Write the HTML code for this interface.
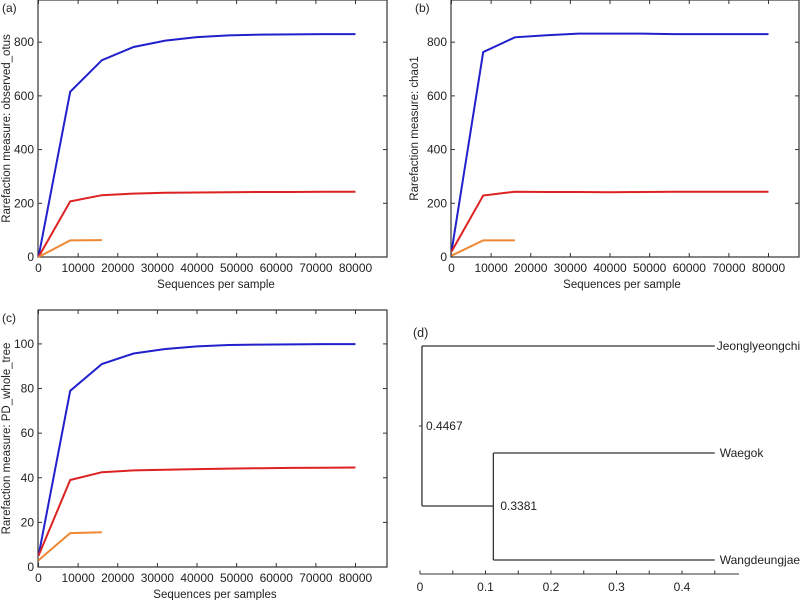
<!DOCTYPE html>
<html><head><meta charset="utf-8"><style>
body{margin:0;background:#fff;}
svg{display:block;font-family:"Liberation Sans",sans-serif;}
text{fill:#222;}
</style></head><body>
<svg id="fig" width="800" height="600" viewBox="0 0 800 600"></svg>
<script>
const xSeq = [0,8000,16000,24000,32000,40000,48000,56000,64000,72000,80000];
const xTicks = [0,10000,20000,30000,40000,50000,60000,70000,80000];
const aBlue = [0,615,733,782,806,819,825,828,829,830,830];
const aRed = [0,207,230,236,239,240,241,242,242,243,243];
const aOrange = [0,62,63];
const bBlue = [20,763,818,826,832,832,832,830,830,830,830];
const bRed = [20,229,243,242,242,241,242,243,243,243,243];
const bOrange = [5,62,62];
const cBlue = [5,79,91,95.7,97.7,98.9,99.5,99.7,99.8,99.9,99.9];
const cRed = [5,39,42.5,43.3,43.6,43.9,44.1,44.3,44.4,44.5,44.6];
const cOrange = [3,15.2,15.6];
const yTicksAB = [0,200,400,600,800];
const yTicksC = [0,20,40,60,80,100];
const treeTicks = [0,0.1,0.2,0.3,0.4];
const treeLeaves = ["Jeonglyeongchi","Waegok","Wangdeungjae"];
const treeNodeHeights = [0.4467,0.3381];
const treeNodeX = [0.003,0.112];
const treeLeafX = 0.45;

const NS="http://www.w3.org/2000/svg";
const svg=document.getElementById('fig');
function mk(tag,attrs,parent,txt){const e=document.createElementNS(NS,tag);for(const k in attrs)e.setAttribute(k,attrs[k]);if(txt!==undefined)e.textContent=txt;(parent||svg).appendChild(e);return e;}

function panel(id,L,R,T,B,ymax,yTicks,series,ylabel,xlabel,ylx,xlc){
  const g=mk('g',{});
  
  
  const x0=L+0.5, xScale=(355.5-38.5)/80000;
  const X=v=>x0+v*xScale;
  const Y=v=>B-(B-T)*v/ymax;
  const box=mk('rect',{x:L,y:T,width:R-L,height:B-T,fill:'none',stroke:'#333','stroke-width':1.2},g);
  
  
  xTicks.forEach(t=>{
    const px=X(t);
    mk('line',{x1:px,x2:px,y1:B,y2:B-4,stroke:'#333'},g);
    mk('line',{x1:px,x2:px,y1:T,y2:T+4,stroke:'#333'},g);
    const tl=mk('text',{x:px,y:B+15,'font-size':12,'text-anchor':'middle'},g,String(t));
    
    
  });
  yTicks.forEach(t=>{
    const py=Y(t);
    mk('line',{x1:L,x2:L+4,y1:py,y2:py,stroke:'#333'},g);
    mk('line',{x1:R,x2:R-4,y1:py,y2:py,stroke:'#333'},g);
    const tl=mk('text',{x:L-4,y:py+4,'font-size':12,'text-anchor':'end'},g,String(t));
    
    
  });
  series.forEach(s=>{
    const pts=s.vals.map((v,i)=>X(xSeq[i]).toFixed(1)+','+Y(v).toFixed(1)).join(' ');
    const pl=mk('polyline',{points:pts,fill:'none',stroke:s.color,'stroke-width':2},g);
    
    
  });
  const yl=mk('text',{x:0,y:0,'font-size':11.5,'text-anchor':'middle',transform:`translate(${ylx},${(T+B)/2}) rotate(-90)`},g,ylabel);
  
  
  const xl=mk('text',{x:xlc,y:B+31,'font-size':11.5,'text-anchor':'middle'},g,xlabel);
  
  
  const pl=mk('text',{x:L-36,y:T+12,'font-size':12},g,'('+id+')');
  
  
}
panel('a',38,387,0,257,957,yTicksAB,[{name:'blue',color:'#2020cc',vals:aBlue},{name:'red',color:'#dd2222',vals:aRed},{name:'orange',color:'#ee8833',vals:aOrange}],'Rarefaction measure: observed_otus','Sequences per sample',10,216);
panel('b',451,799,0,257,957,yTicksAB,[{name:'blue',color:'#2020cc',vals:bBlue},{name:'red',color:'#dd2222',vals:bRed},{name:'orange',color:'#ee8833',vals:bOrange}],'Rarefaction measure: chao1','Sequences per sample',418,622);
panel('c',38,387,310,567,115.2,yTicksC,[{name:'blue',color:'#2020cc',vals:cBlue},{name:'red',color:'#dd2222',vals:cRed},{name:'orange',color:'#ee8833',vals:cOrange}],'Rarefaction measure: PD_whole_tree','Sequences per samples',10,215);

// dendrogram
(function(){
  const g=mk('g',{});
  
  
  const X=v=>420+v*655;
  const leafY=[346,453,560];
  const axY=574;
  mk('line',{x1:420,x2:739,y1:axY,y2:axY,stroke:'#333'},g);
  for(let t=0;t<=0.451;t+=0.05){mk('line',{x1:X(t),x2:X(t),y1:axY,y2:axY-3.5,stroke:'#333'},g);}
  treeTicks.forEach(t=>{
    const tl=mk('text',{x:X(t),y:axY+17,'font-size':12,'text-anchor':'middle'},g,String(t));
    
    
  });
  const st={stroke:'#333','stroke-width':1.3,fill:'none'};
  const rx=X(treeNodeX[0]), ix=X(treeNodeX[1]), lx=X(treeLeafX);
  const innerY=506;
  [[rx,leafY[0],lx,leafY[0]],[rx,leafY[0],rx,innerY],[rx,innerY,ix,innerY],[ix,leafY[1],ix,leafY[2]],[ix,leafY[1],lx,leafY[1]],[ix,leafY[2],lx,leafY[2]]].forEach(l=>{
    const e=mk('line',Object.assign({x1:l[0],y1:l[1],x2:l[2],y2:l[3]},st),g);
    
    
  });
  mk('line',{x1:rx-3,x2:rx,y1:426,y2:426,stroke:'#333'},g);
  mk('line',{x1:ix-3,x2:ix,y1:506,y2:506,stroke:'#333'},g);
  const n1=mk('text',{x:rx+4,y:430,'font-size':12},g,String(treeNodeHeights[0]));
  
  
  const n2=mk('text',{x:ix+7,y:510,'font-size':12},g,String(treeNodeHeights[1]));
  
  
  treeLeaves.forEach((n,i)=>{
    const tl=mk('text',{x:lx+(i==0?2:5),y:leafY[i]+4,'font-size':12},g,n);
    
    
  });
  const pl=mk('text',{x:413,y:337,'font-size':12.5},g,'(d)');
  
  
})();
</script>
</body></html>
